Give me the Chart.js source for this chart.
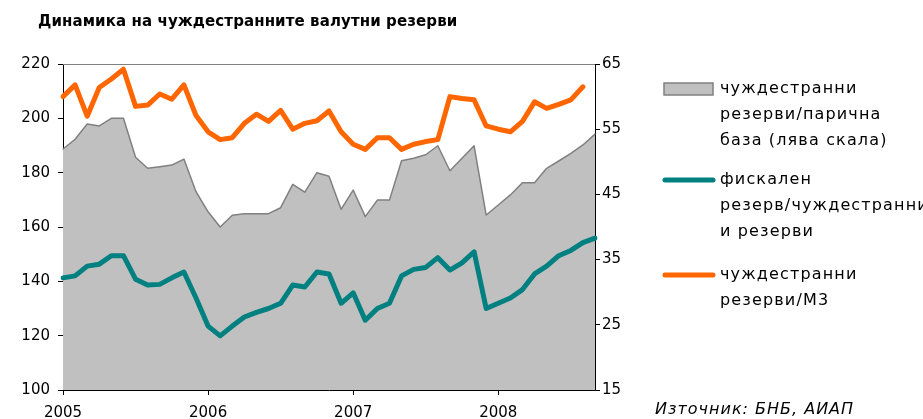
<!DOCTYPE html>
<html><head><meta charset="utf-8">
<script src="https://cdn.jsdelivr.net/npm/chart.js@4.4.1/dist/chart.umd.min.js"></script>
<style>html,body{margin:0;padding:0;background:#fff}#wrap{width:923px;height:419px;position:relative}</style>
</head><body><div id="wrap"><canvas id="c" width="923" height="419"></canvas></div>
<script>
const titleText = "Динамика на чуждестранните валутни резерви";
const sourceText = "Източник: БНБ, АИАП";
const months = [
 "01.2005","02.2005","03.2005","04.2005","05.2005","06.2005","07.2005","08.2005","09.2005","10.2005","11.2005","12.2005",
 "01.2006","02.2006","03.2006","04.2006","05.2006","06.2006","07.2006","08.2006","09.2006","10.2006","11.2006","12.2006",
 "01.2007","02.2007","03.2007","04.2007","05.2007","06.2007","07.2007","08.2007","09.2007","10.2007","11.2007","12.2007",
 "01.2008","02.2008","03.2008","04.2008","05.2008","06.2008","07.2008","08.2008","09.2008"];
const leftTicks = [100,120,140,160,180,200,220];
const rightTicks = [15,25,35,45,55,65];
const reservesToBase = [188.7,192.3,197.9,197.2,200.0,200.0,185.7,181.6,182.2,182.8,185.0,173.0,
 165.6,160.0,164.3,164.9,164.9,164.9,167.1,175.7,172.8,180.0,178.7,166.5,
 173.6,163.8,169.9,169.9,184.4,185.3,186.6,189.9,180.7,185.3,189.9,164.4,
 168.1,171.8,176.3,176.3,181.6,184.3,187.1,190.2,194.2];
const fiscalToReserves = [32.2,32.5,34.0,34.3,35.6,35.6,32.0,31.1,31.2,32.2,33.1,29.1,
 24.8,23.3,24.8,26.2,26.9,27.5,28.3,31.1,30.8,33.1,32.8,28.3,
 29.9,25.7,27.5,28.3,32.5,33.5,33.8,35.3,33.4,34.5,36.2,27.5,
 28.3,29.1,30.4,32.8,34.0,35.6,36.4,37.6,38.3];
const reservesToM3 = [60.0,61.8,57.0,61.4,62.7,64.2,58.5,58.7,60.4,59.6,61.8,57.1,
 54.6,53.4,53.7,55.9,57.3,56.2,57.9,55.0,55.9,56.3,57.8,54.6,
 52.7,51.9,53.7,53.7,51.9,52.7,53.1,53.4,60.0,59.7,59.5,55.5,
 55.0,54.6,56.2,59.2,58.2,58.8,59.5,61.5,null];
const legendLabels = [
 ["чуждестранни","резерви/парична","база (лява скала)"],
 ["фискален","резерв/чуждестранни","и резерви"],
 ["чуждестранни","резерви/М3"]];

const FONT = "'DejaVu Sans', Verdana, sans-serif";

const decor = {
  id: 'decor',
  beforeDraw(chart) {
    const ctx = chart.ctx;
    ctx.save();
    ctx.fillStyle = '#fff';
    ctx.fillRect(0,0,chart.width,chart.height);
    ctx.restore();
  },
  afterDraw(chart) {
    const ctx = chart.ctx, a = chart.chartArea;
    ctx.save();
    ctx.strokeStyle = '#808080'; ctx.lineWidth = 1;
    ctx.beginPath(); ctx.moveTo(a.left, a.top + 0.5); ctx.lineTo(a.right, a.top + 0.5); ctx.stroke();
    ctx.fillStyle = '#000';
    ctx.textBaseline = 'middle';
    ctx.font = "bold 15px " + FONT;
    try { ctx.letterSpacing = '0.1px'; } catch(e) {}
    ctx.fillText(titleText, 38, 22);
    ctx.font = "italic 16px " + FONT;
    try { ctx.letterSpacing = '1px'; } catch(e) {}
    ctx.fillText(sourceText, 655, 410);
    ctx.font = "16px " + FONT;
    try { ctx.letterSpacing = '1.15px'; } catch(e) {}
    const ds = chart.data.datasets;
    const ys = [89, 180, 275];
    for (let i = 0; i < ds.length; i++) {
      const d = ds[i], y0 = ys[i];
      if (i === 0) {
        ctx.fillStyle = d.backgroundColor; ctx.strokeStyle = d.borderColor; ctx.lineWidth = 1.5;
        ctx.fillRect(664, y0 - 6, 49, 12); ctx.strokeRect(664, y0 - 6, 49, 12);
      } else {
        ctx.strokeStyle = d.borderColor; ctx.lineWidth = 5; ctx.lineCap = 'round';
        ctx.beginPath(); ctx.moveTo(665, y0); ctx.lineTo(713, y0); ctx.stroke();
      }
      ctx.fillStyle = '#000';
      legendLabels[i].forEach((t, k) => ctx.fillText(t, 720, y0 + k * 26));
    }
    ctx.restore();
  }
};

new Chart(document.getElementById('c'), {
  type: 'line',
  data: {
    labels: months,
    datasets: [
      { label: legendLabels[0].join(' '), data: reservesToBase, yAxisID: 'yL', fill: 'start',
        backgroundColor: '#C0C0C0', borderColor: '#808080', borderWidth: 1.5, pointRadius: 0, order: 3, tension: 0 },
      { label: legendLabels[1].join(' '), data: fiscalToReserves, yAxisID: 'yR', fill: false,
        borderColor: '#008080', backgroundColor: '#008080', borderWidth: 5, pointRadius: 0, order: 2, tension: 0 },
      { label: legendLabels[2].join(' '), data: reservesToM3, yAxisID: 'yR', fill: false,
        borderColor: '#FF6600', backgroundColor: '#FF6600', borderWidth: 5, pointRadius: 0, order: 1, tension: 0 }
    ]
  },
  options: {
    responsive: false, animation: false, devicePixelRatio: 1,
    layout: { padding: { left: 0, right: 288, top: 64, bottom: 0 } },
    plugins: { legend: { display: false }, tooltip: { enabled: false }, title: { display: false } },
    elements: { line: { borderJoinStyle: 'round', borderCapStyle: 'round' } },
    scales: {
      x: {
        type: 'category', offset: false,
        grid: { drawOnChartArea: false, drawTicks: true, tickLength: 5,
                color: c => (c.index % 12 === 0 ? '#000' : 'rgba(0,0,0,0)') },
        border: { color: '#000', width: 1 },
        ticks: { autoSkip: false, maxRotation: 0, color: '#000', font: { family: FONT, size: 15 }, padding: 9,
                 callback: function(v, i) { const l = months[i]; return l.startsWith('01.') ? l.slice(3) : ''; } },
        afterFit: s => { s.height = 29; }
      },
      yL: {
        position: 'left', min: leftTicks[0], max: leftTicks[leftTicks.length - 1],
        afterBuildTicks: s => { s.ticks = leftTicks.map(v => ({ value: v })); },
        grid: { drawOnChartArea: false, tickLength: 5, color: '#000' },
        border: { color: '#000', width: 1 },
        ticks: { color: '#000', font: { family: FONT, size: 15 }, padding: 8 },
        afterFit: s => { s.width = 63; }
      },
      yR: {
        position: 'right', min: rightTicks[0], max: rightTicks[rightTicks.length - 1],
        afterBuildTicks: s => { s.ticks = rightTicks.map(v => ({ value: v })); },
        grid: { drawOnChartArea: false, tickLength: 5, color: '#000' },
        border: { color: '#000', width: 1 },
        ticks: { color: '#000', font: { family: FONT, size: 15 }, padding: 2 },
        afterFit: s => { s.width = 40; }
      }
    }
  },
  plugins: [decor]
});
</script></body></html>
